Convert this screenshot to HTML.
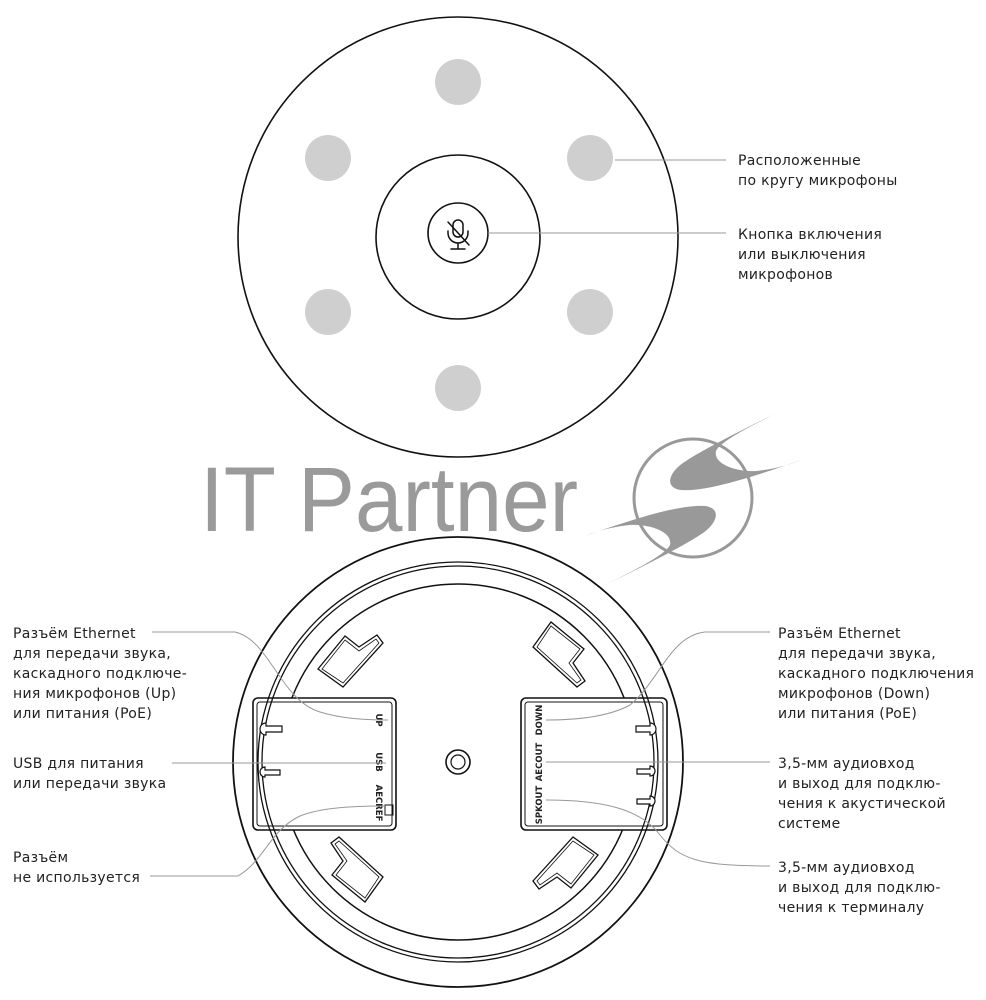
<!DOCTYPE html>
<html><head><meta charset="utf-8"><style>
html,body{margin:0;padding:0;background:#fff}
svg{display:block}
text{font-family:"DejaVu Sans","Liberation Sans",sans-serif}
</style></head><body>
<svg width="986" height="1000" viewBox="0 0 986 1000" xmlns="http://www.w3.org/2000/svg">
<g fill="none" stroke="#111">
<circle cx="458" cy="237" r="220" stroke-width="1.6"/>
<circle cx="458" cy="237" r="82" stroke-width="1.6"/>
<circle cx="458" cy="233" r="30" stroke-width="1.6"/>
</g>
<g fill="#cfcfcf">
<circle cx="458" cy="82" r="23"/>
<circle cx="328" cy="158" r="23"/>
<circle cx="590" cy="158" r="23"/>
<circle cx="328" cy="312" r="23"/>
<circle cx="590" cy="312" r="23"/>
<circle cx="458" cy="388" r="23"/>
</g>
<g fill="none" stroke="#111" stroke-width="1.5" stroke-linecap="round">
<rect x="453" y="220" width="10" height="17" rx="5"/>
<path d="M448 231 v2 a10 10 0 0 0 20 0 v-2"/>
<path d="M458 243 v6 M451 249 h14"/>
<path d="M448 222 L469 245"/>
</g>
<g stroke="#999" stroke-width="1">
<line x1="615" y1="160" x2="726" y2="160"/>
<line x1="488" y1="233" x2="726" y2="233"/>
</g>
<g font-size="14" fill="#222" letter-spacing="0.3">
<text x="738" y="165">Расположенные</text>
<text x="738" y="185">по кругу микрофоны</text>
<text x="738" y="239">Кнопка включения</text>
<text x="738" y="259">или выключения</text>
<text x="738" y="279">микрофонов</text>
</g>

<text x="200" y="531" font-size="92" fill="#9a9a9a" style="font-family:'Liberation Sans',sans-serif" textLength="378" lengthAdjust="spacingAndGlyphs">IT Partner</text>
<g fill="#999">
<circle cx="693" cy="498" r="59" fill="none" stroke="#999" stroke-width="3"/>
<path id="sw" d="M585 536 C630 520 680 504 705 506 C722 508 718 524 700 535 C680 548 640 568 605 585 C635 570 665 555 670 545 C673 532 650 524 630 525 C610 527 595 532 585 536Z"/>
<use href="#sw" transform="rotate(180 693 498)"/>
</g>

<g fill="none" stroke="#111">
<circle cx="458" cy="762" r="225" stroke-width="1.8"/>
<circle cx="458" cy="762" r="178" stroke-width="1.5"/>
</g>
<g fill="none" stroke="#111" stroke-width="1.3">
<g id="tab">
<path d="M345 636 L359 647 L377 635 L383 643 L343 687 L318 669 Z"/>
<path d="M345 640 L359 651 L376 639 L379 643 L343 683 L322 669 Z" stroke-width="0.8"/>
</g>
<use href="#tab" transform="rotate(90 458 762)"/>
<use href="#tab" transform="rotate(180 458 762)"/>
<use href="#tab" transform="rotate(270 458 762)"/>
</g>
<g stroke="#111" fill="#fff">
<rect x="253" y="698" width="143" height="132" rx="5" stroke-width="1.6"/>
<rect x="257" y="702" width="135" height="124" rx="3" fill="none" stroke-width="1"/>
<rect x="521" y="698" width="146" height="132" rx="5" stroke-width="1.6"/>
<rect x="525" y="702" width="138" height="124" rx="3" fill="none" stroke-width="1"/>
</g>
<g fill="none" stroke="#111">
<circle cx="458" cy="762" r="200" stroke-width="1.3"/>
<circle cx="458" cy="762" r="196" stroke-width="1.3"/>
<circle cx="458" cy="762" r="12" stroke-width="1.6"/>
<circle cx="458" cy="762" r="7" stroke-width="1.2"/>
<rect x="385" y="805" width="8" height="10" stroke-width="1"/>
</g>
<g fill="#fff" stroke="#111" stroke-width="1.2">
<path d="M266 723 a6 6 0 1 0 0 12 l0 -3 h16 v-6 h-16 z"/>
<path d="M265 767 a5 5 0 1 0 0 10 l0 -2 h15 v-5 h-15 z"/>
<path d="M650 723 a6 6 0 1 1 0 12 l0 -3 h-14 v-6 h14 z"/>
<path d="M650 766 a5 5 0 1 1 0 10 l0 -2 h-13 v-5 h13 z"/>
<path d="M650 796 a5 5 0 1 1 0 10 l0 -2 h-13 v-5 h13 z"/>
</g>
<g font-size="8.5" font-weight="bold" fill="#222" style="font-family:'Liberation Sans',sans-serif">
<text transform="translate(376,720) rotate(90)" text-anchor="middle">UP</text>
<text transform="translate(376,762) rotate(90)" text-anchor="middle">USB</text>
<text transform="translate(376,803) rotate(90)" text-anchor="middle">AECREF</text>
<text transform="translate(542,720) rotate(-90)" text-anchor="middle">DOWN</text>
<text transform="translate(542,762) rotate(-90)" text-anchor="middle">AECOUT</text>
<text transform="translate(542,805) rotate(-90)" text-anchor="middle">SPKOUT</text>
</g>
<g fill="none" stroke="#999" stroke-width="1">
<path d="M152 632 H235 C270 640 280 700 320 712 C340 718 360 720 388 720"/>
<path d="M172 763 H386"/>
<path d="M150 876 H238 C265 860 270 830 300 816 C320 808 350 806 386 806"/>
<path d="M770 632 H705 C670 636 660 680 630 705 C610 716 580 720 546 720"/>
<path d="M546 762 H770"/>
<path d="M546 800 C600 800 640 808 660 835 C680 860 700 866 770 866"/>
</g>
<g font-size="14" fill="#222" letter-spacing="0.3">
<text x="13" y="638">Разъём Ethernet</text>
<text x="13" y="658">для передачи звука,</text>
<text x="13" y="678">каскадного подключе-</text>
<text x="13" y="698">ния микрофонов (Up)</text>
<text x="13" y="718">или питания (PoE)</text>
<text x="13" y="768">USB для питания</text>
<text x="13" y="788">или передачи звука</text>
<text x="13" y="862">Разъём</text>
<text x="13" y="882">не используется</text>
<text x="778" y="638">Разъём Ethernet</text>
<text x="778" y="658">для передачи звука,</text>
<text x="778" y="678">каскадного подключения</text>
<text x="778" y="698">микрофонов (Down)</text>
<text x="778" y="718">или питания (PoE)</text>
<text x="778" y="768">3,5-мм аудиовход</text>
<text x="778" y="788">и выход для подклю-</text>
<text x="778" y="808">чения к акустической</text>
<text x="778" y="828">системе</text>
<text x="778" y="872">3,5-мм аудиовход</text>
<text x="778" y="892">и выход для подклю-</text>
<text x="778" y="912">чения к терминалу</text>
</g>
</svg>
</body></html>
